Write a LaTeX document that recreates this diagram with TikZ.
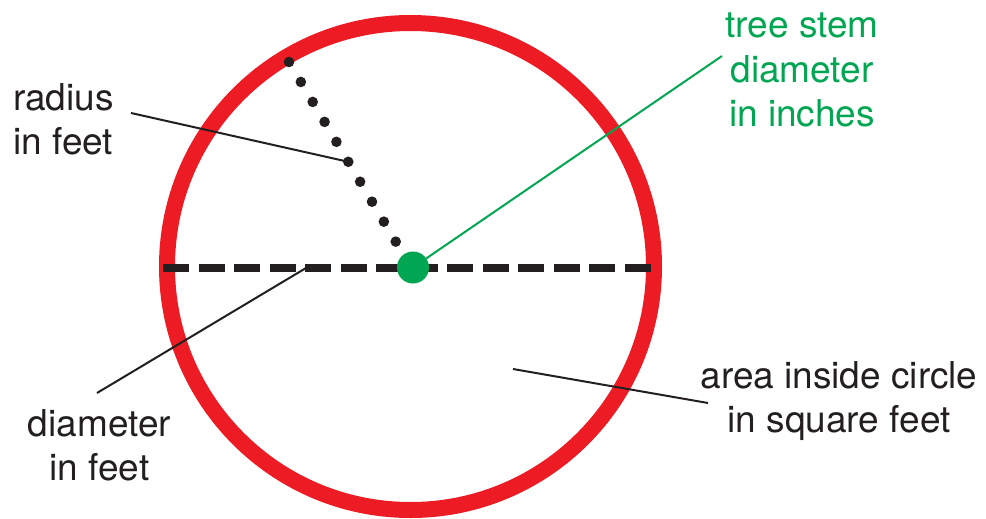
\documentclass[tikz,border=0pt]{standalone}
\usepackage{fontspec}
\setmainfont{TeX Gyre Heros}
\usetikzlibrary{calc}
\definecolor{ringred}{HTML}{ED1C24}
\definecolor{stemgreen}{HTML}{00A651}
\definecolor{inkblack}{HTML}{231F20}

\begin{document}
\begin{tikzpicture}[x=1pt,y=-1pt,
 lbl/.style={font=\fontsize{37}{44.5}\selectfont,text=inkblack,inner sep=0pt,align=center},
 dot/.style={circle,fill=inkblack,inner sep=0pt,minimum size=10.6pt},
 lead/.style={draw=inkblack,line width=2pt},
 ring/.style={draw=ringred,line width=16pt}]

\useasboundingbox (0,0) rectangle (986,519);

% circle and its diameter
\coordinate (ctr) at (410.5,266.5);
\coordinate (rim) at (289,62);
\draw[ring] (ctr) circle (243.5pt);
\coordinate (dl) at (163,268);
\coordinate (dr) at (651,268);
\draw[inkblack,line width=7.4pt,dash pattern=on 26pt off 9.5pt] (dl) -- (dr);

% radius as dots
\foreach \k in {0,...,9}{\node[dot] (d\k) at ($(ctr)!{1-\k*0.0976}!(rim)$) {};}

\node[circle,fill=stemgreen,inner sep=0pt,minimum size=32pt] (stem) at (413,267.5) {};

% labels
\node[lbl,align=left,anchor=north west] (radius) at (13,83) {radius\\in feet};
\node[lbl,anchor=north] (diam) at (99.5,409) {diameter\\in feet};
\node[lbl,anchor=north,text=stemgreen] (stemlbl) at (802,12.7) {tree stem\\diameter\\in inches};
\node[lbl,anchor=north] (area) at (839,361) {area inside circle\\in square feet};

% leaders
\coordinate (radlead) at (131,113);
\coordinate (diamlead) at (97,393);
\coordinate (diamtip) at (306,268);
\coordinate (stemlead) at (722,56);
\coordinate (areatip) at (513,369);
\coordinate (arealead) at (708,403);
\draw[lead] (radlead) -- (d5.center);
\draw[lead] (diamlead) -- (diamtip);
\draw[lead] (areatip) -- (arealead);
\draw[stemgreen,line width=2pt] (stem) -- (stemlead);

\end{tikzpicture}
\end{document}
